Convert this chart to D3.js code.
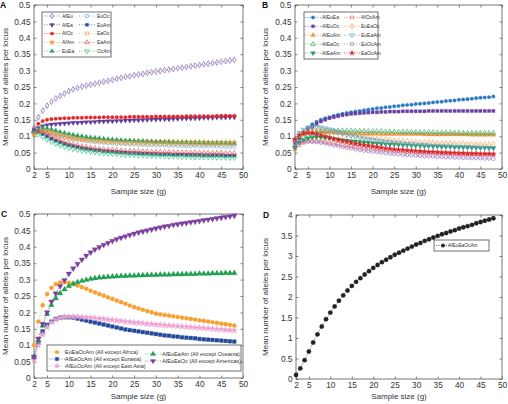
<!DOCTYPE html>
<html><head><meta charset="utf-8">
<script src="https://cdn.jsdelivr.net/npm/d3@7"></script>
<style>body{margin:0;background:#fff}svg{display:block;font-family:Arial,"Liberation Sans",Helvetica,sans-serif}</style>
</head><body><svg id="c" width="508" height="404"></svg>
<script>
// ---------------- DATA ----------------
const sampleSizes = [2,3,4,5,6,7,8,9,10,11,12,13,14,15,16,17,18,19,20,21,22,23,24,25,26,27,28,29,30,31,32,33,34,35,36,37,38,39,40,41,42,43,44,45,46,47,48];
const xTickValues = [2,5,10,15,20,25,30,35,40,45,50];
const yTicksSmall = [0,0.05,0.1,0.15,0.2,0.25,0.3,0.35,0.4,0.45,0.5];
const yTicksD = [0,0.5,1,1.5,2,2.5,3,3.5,4];
const xTitle = "Sample size (g)";
const yTitle = "Mean number of alleles per locus";
const panelLetters = ["A","B","C","D"];

// Panel A (pairs)
const namesA = ["AfEu","AfEa","AfOc","AfAm","EuEa","EuOc","EuAm","EaOc","EaAm","OcAm"];
const AfEu = [.125,.158,.178,.193,.205,.215,.223,.230,.238,.243, .247,.251,.254,.257,.260,.263,.266,.269,.272,.275, .278,.281,.283,.286,.288,.290,.293,.295,.297,.299, .301,.303,.305,.307,.309,.311,.313,.315,.317,.319, .321,.323,.325,.327,.329,.331,.333];
const AfEa = [.110,.125,.131,.134,.136,.137,.138,.139,.140,.141, .141,.142,.143,.143,.144,.145,.145,.146,.146,.147, .147,.148,.148,.149,.149,.150,.150,.151,.151,.152, .152,.152,.153,.153,.154,.154,.154,.155,.155,.156, .156,.156,.157,.157,.157,.158,.158];
const AfOc = [.120,.138,.146,.150,.152,.153,.154,.155,.155,.156, .156,.156,.157,.157,.157,.157,.158,.158,.158,.158, .158,.158,.159,.159,.159,.159,.159,.159,.160,.160, .160,.160,.160,.160,.160,.161,.161,.161,.161,.161, .161,.161,.162,.162,.162,.162,.162];
const AfAm = [.105,.113,.116,.115,.112,.108,.104,.101,.098,.096, .094,.092,.091,.090,.089,.088,.087,.087,.086,.086, .085,.085,.085,.084,.084,.084,.084,.083,.083,.083, .083,.083,.082,.082,.082,.082,.082,.082,.082,.081, .081,.081,.081,.081,.081,.081,.081];
const EuEa = [.115,.122,.125,.124,.121,.117,.113,.110,.107,.104, .102,.100,.098,.096,.095,.094,.092,.091,.090,.089, .088,.087,.087,.086,.085,.085,.084,.084,.083,.083, .082,.082,.082,.081,.081,.081,.080,.080,.080,.080, .079,.079,.079,.079,.079,.078,.078];
const EuOc = [.120,.118,.114,.110,.106,.102,.099,.096,.093,.091, .089,.087,.085,.084,.082,.081,.080,.079,.078,.077, .077,.076,.075,.075,.074,.074,.073,.073,.072,.072, .072,.071,.071,.071,.070,.070,.070,.070,.069,.069, .069,.069,.069,.068,.068,.068,.068];
const EuAm = [.118,.114,.107,.100,.093,.087,.082,.077,.073,.070, .067,.064,.062,.060,.058,.057,.055,.054,.053,.052, .051,.050,.049,.049,.048,.047,.047,.046,.046,.045, .045,.045,.044,.044,.044,.043,.043,.043,.043,.042, .042,.042,.042,.042,.041,.041,.041];
const EaOc = [.105,.112,.115,.114,.111,.107,.103,.099,.096,.093, .091,.089,.087,.086,.085,.084,.083,.082,.081,.081, .080,.080,.079,.079,.079,.078,.078,.078,.078,.077, .077,.077,.077,.077,.077,.076,.076,.076,.076,.076, .076,.076,.076,.076,.076,.076,.076];
const EaAm = [.115,.117,.113,.107,.100,.094,.088,.083,.079,.075, .072,.069,.067,.065,.063,.061,.060,.059,.058,.057, .056,.055,.055,.054,.054,.053,.053,.052,.052,.052, .051,.051,.051,.050,.050,.050,.050,.050,.049,.049, .049,.049,.049,.049,.048,.048,.048];
const OcAm = [.110,.105,.098,.090,.083,.077,.072,.068,.064,.061, .058,.056,.054,.052,.051,.049,.048,.047,.046,.045, .044,.043,.043,.042,.041,.041,.040,.040,.039,.039, .039,.038,.038,.038,.037,.037,.037,.036,.036,.036, .036,.035,.035,.035,.035,.034,.034];

// Panel B (triplets)
const namesB = ["AfEuEa","AfEuOc","AfEuAm","AfEaOc","AfEaAm","AfOcAm","EuEaOc","EuEaAm","EuOcAm","EaOcAm"];
const AfEuEa = [.066,.092,.112,.126,.136,.144,.150,.155,.158,.162, .165,.168,.171,.173,.175,.177,.179,.181,.183,.185, .186,.188,.189,.191,.192,.194,.195,.196,.198,.199, .200,.201,.203,.204,.205,.207,.208,.209,.211,.212, .213,.214,.216,.217,.218,.219,.221];
const AfEuOc = [.080,.098,.110,.120,.128,.138,.145,.150,.155,.158, .161,.164,.166,.168,.169,.170,.171,.172,.173,.173, .174,.174,.175,.175,.175,.176,.176,.176,.176,.176, .176,.177,.177,.177,.177,.177,.177,.177,.177,.177, .177,.177,.177,.177,.177,.177,.177];
const AfEuAm = [.088,.100,.108,.112,.114,.114,.113,.112,.111,.110, .110,.109,.109,.108,.108,.108,.107,.107,.107,.107, .106,.106,.106,.106,.106,.106,.106,.106,.106,.106, .105,.105,.105,.105,.105,.105,.105,.105,.105,.105, .105,.104,.104,.104,.104,.104,.104];
const AfEaOc = [.070,.085,.095,.102,.108,.112,.115,.116,.117,.117, .117,.117,.117,.117,.116,.116,.116,.115,.115,.115, .115,.114,.114,.114,.113,.113,.113,.113,.112,.112, .112,.112,.112,.111,.111,.111,.111,.111,.110,.110, .110,.110,.110,.110,.110,.110,.110];
const AfEaAm = [.065,.080,.088,.093,.096,.097,.097,.096,.094,.092, .090,.088,.087,.085,.084,.083,.081,.080,.079,.078, .077,.076,.075,.075,.074,.073,.073,.072,.071,.071, .070,.070,.069,.069,.068,.068,.068,.067,.067,.066, .066,.066,.065,.065,.065,.065,.064];
const AfOcAm = [.060,.073,.080,.084,.085,.085,.084,.082,.080,.078, .076,.074,.072,.070,.068,.066,.065,.063,.062,.061, .059,.058,.057,.056,.055,.054,.053,.053,.052,.051, .051,.050,.050,.049,.049,.048,.048,.047,.047,.047, .046,.046,.046,.045,.045,.045,.045];
const EuEaOc = [.090,.105,.115,.120,.122,.122,.121,.119,.116,.113, .110,.107,.104,.102,.100,.098,.096,.094,.093,.091, .090,.089,.088,.087,.086,.085,.084,.083,.082,.081, .081,.080,.080,.079,.079,.078,.078,.077,.077,.077, .076,.076,.076,.075,.075,.075,.075];
const EuEaAm = [.090,.110,.120,.126,.128,.129,.127,.124,.121,.117, .113,.109,.105,.102,.099,.096,.093,.091,.089,.087, .085,.083,.082,.080,.079,.078,.077,.076,.075,.074, .073,.072,.071,.071,.070,.069,.069,.068,.068,.067, .067,.066,.066,.065,.065,.064,.064];
const EuOcAm = [.075,.080,.083,.084,.083,.082,.080,.078,.075,.072, .070,.067,.065,.063,.060,.058,.056,.055,.053,.052, .050,.049,.047,.046,.045,.044,.043,.042,.041,.040, .039,.039,.038,.037,.037,.036,.036,.035,.035,.034, .034,.033,.033,.033,.032,.032,.031];
const EaOcAm = [.090,.103,.108,.110,.109,.106,.103,.099,.096,.092, .089,.086,.083,.080,.077,.075,.073,.071,.069,.067, .065,.063,.062,.060,.059,.058,.057,.056,.055,.054, .053,.052,.052,.051,.050,.050,.049,.049,.048,.048, .047,.047,.047,.046,.046,.046,.045];

// Panel C (four regions)
const namesC = ["EuEaOcAm (All except Africa)","AfEaOcAm (All except Eurasia)","AfEuOcAm (All except East Asia)","AfEuEaAm (All except Oceania)","AfEuEaOc (All except Americas)"];
const EuEaOcAm = [.100,.172,.222,.256,.275,.286,.291,.292,.290,.287, .282,.277,.272,.266,.261,.256,.251,.246,.241,.236, .231,.226,.221,.216,.212,.208,.204,.200,.196,.194, .192,.190,.188,.186,.184,.182,.180,.178,.176,.174, .172,.170,.168,.166,.164,.162,.160];
const AfEaOcAm = [.062,.108,.142,.162,.172,.180,.184,.185,.185,.184, .181,.178,.175,.172,.169,.166,.163,.160,.157,.154, .151,.148,.146,.144,.142,.140,.138,.136,.134,.132, .130,.129,.127,.126,.124,.123,.122,.121,.119,.118, .117,.116,.115,.114,.113,.112,.111];
const AfEuOcAm = [.055,.100,.132,.155,.170,.178,.183,.186,.187,.187, .187,.186,.185,.184,.183,.181,.180,.178,.177,.175, .174,.172,.171,.169,.168,.167,.165,.164,.163,.162, .161,.160,.159,.158,.157,.156,.155,.154,.153,.152, .151,.150,.149,.148,.147,.146,.145];
const AfEuEaAm = [.065,.115,.160,.195,.222,.243,.258,.270,.280,.287, .292,.296,.299,.302,.304,.306,.307,.308,.309,.310, .311,.311,.312,.312,.313,.313,.314,.314,.314,.315, .315,.315,.316,.316,.316,.317,.317,.317,.318,.318, .318,.319,.319,.319,.320,.320,.320];
const AfEuEaOc = [.065,.120,.165,.200,.233,.258,.280,.298,.318,.334, .348,.361,.373,.383,.392,.399,.406,.412,.418,.423, .428,.432,.436,.440,.444,.447,.450,.453,.456,.459, .462,.464,.467,.469,.471,.473,.475,.477,.479,.481, .483,.485,.487,.489,.491,.493,.495];

// Panel D (all five regions)
const namesD = ["AfEuEaOcAm"];
const AfEuEaOcAm = [.10,.26,.46,.67,.89,1.09,1.28,1.46,1.62,1.77, 1.91,2.04,2.16,2.27,2.37,2.46,2.55,2.63,2.71,2.78, 2.85,2.91,2.97,3.03,3.08,3.13,3.18,3.23,3.28,3.32, 3.37,3.41,3.45,3.49,3.53,3.56,3.60,3.63,3.67,3.70, 3.73,3.76,3.80,3.83,3.86,3.89,3.92];

// ---------------- STYLES ----------------
const sym = {circle:d3.symbolCircle, square:d3.symbolSquare, diamond:d3.symbolDiamond, tri:d3.symbolTriangle, tridown:d3.symbolTriangle, star:d3.symbolStar};
const stylesA = [
  {c:"#7d5fb0",s:"diamond",f:false},{c:"#5b3a95",s:"tridown",f:true},{c:"#e3262c",s:"circle",f:true},
  {c:"#f29a30",s:"star",f:true},{c:"#2ca25f",s:"tri",f:true},{c:"#63aed3",s:"circle",f:false},
  {c:"#1f4f96",s:"square",f:true},{c:"#f5a04a",s:"square",f:false},{c:"#e8504f",s:"tri",f:false},{c:"#2fbf7a",s:"tridown",f:false}];
const stylesB = [
  {c:"#2b7cc0",s:"circle",f:true},{c:"#6a3fa0",s:"square",f:true},{c:"#f0913a",s:"tri",f:true},
  {c:"#31ad62",s:"tri",f:false},{c:"#1f9a55",s:"tridown",f:true},{c:"#ee6b6b",s:"square",f:false},
  {c:"#f2a050",s:"diamond",f:false},{c:"#4aa3d0",s:"tridown",f:false},{c:"#9170c0",s:"circle",f:false},{c:"#d6262b",s:"star",f:true}];
const stylesC = [
  {c:"#f5a030",s:"circle",f:true},{c:"#24499a",s:"square",f:true},{c:"#eea2d4",s:"star",f:true},
  {c:"#1fa050",s:"tri",f:true},{c:"#7b3f9e",s:"tridown",f:true}];
const stylesD = [{c:"#222",s:"circle",f:true}];

const svg = d3.select("#c");
const axisColor = "#555", textColor = "#333";

function symbolPath(st, size){
  return d3.symbol().type(sym[st.s]).size(size)();
}

function drawPanel(o){
  const g = svg.append("g");
  const x = d3.scaleLinear().domain([2,50]).range([o.l,o.r]);
  const y = d3.scaleLinear().domain(o.yDomain).range([o.b,o.t]);
  g.append("rect").attr("x",o.l).attr("y",o.t).attr("width",o.r-o.l).attr("height",o.b-o.t)
    .attr("fill","none").attr("stroke",axisColor).attr("stroke-width",0.8);
  const fmt = v => String(+v.toFixed(2));
  const xb = g.append("g").attr("transform",`translate(0,${o.b})`)
    .call(d3.axisBottom(x).tickValues(xTickValues).tickSize(-2.5).tickPadding(3.5).tickFormat(fmt));
  const xt = g.append("g").attr("transform",`translate(0,${o.t})`)
    .call(d3.axisTop(x).tickValues(xTickValues).tickSize(-2.5).tickFormat(""));
  const yl = g.append("g").attr("transform",`translate(${o.l},0)`)
    .call(d3.axisLeft(y).tickValues(o.yTicks).tickSize(-2.5).tickPadding(3.5).tickFormat(fmt));
  const yr = g.append("g").attr("transform",`translate(${o.r},0)`)
    .call(d3.axisRight(y).tickValues(o.yTicks).tickSize(-2.5).tickFormat(""));
  [xb,xt,yl,yr].forEach(a=>{
    a.select(".domain").remove();
    a.selectAll(".tick line").attr("stroke",axisColor).attr("stroke-width",0.7);
    a.selectAll(".tick text").attr("fill",textColor).attr("font-size",8.3).attr("font-family","Arial, 'Liberation Sans', sans-serif");
  });
  g.append("text").attr("x",(o.l+o.r)/2).attr("y",o.xty).attr("text-anchor","middle")
    .attr("font-size",8).attr("fill",textColor).text(xTitle);
  g.append("text").attr("transform",`translate(${o.yt},${(o.t+o.b)/2}) rotate(-90)`).attr("text-anchor","middle")
    .attr("font-size",8).attr("fill",textColor).text(yTitle);
  g.append("text").attr("x",o.lx).attr("y",o.ly).attr("font-size",8.5).attr("font-weight","bold").attr("fill","#111").text(o.letter);
  o.series.forEach((s,i)=>{
    const st = o.styles[i];
    const pts = sampleSizes.map((v,k)=>[v,s[k]]);
    g.append("path").datum(pts).attr("fill","none").attr("stroke",st.c).attr("stroke-width",0.7)
      .attr("stroke-dasharray","1,1.5")
      .attr("d",d3.line().x(d=>x(d[0])).y(d=>y(d[1])));
    g.selectAll(null).data(pts).enter().append("path")
      .attr("transform",d=>`translate(${x(d[0])},${y(d[1])})${st.s==="tridown"?" rotate(180)":""}`)
      .attr("d",symbolPath(st,o.msize))
      .attr("fill",st.f?st.c:"none").attr("stroke",st.c).attr("stroke-width",st.f?0.3:0.65);
  });
  const lg = o.legend;
  g.append("rect").attr("x",lg.x).attr("y",lg.y).attr("width",lg.w).attr("height",lg.h)
    .attr("fill","#fff").attr("stroke","#333").attr("stroke-width",0.7);
  lg.items.forEach((it,i)=>{
    const st = o.styles[i];
    g.append("line").attr("x1",it.mx-lg.half).attr("x2",it.mx+lg.half).attr("y1",it.y).attr("y2",it.y)
      .attr("stroke",st.c).attr("stroke-width",0.7).attr("stroke-dasharray","1,1.5");
    g.append("path").attr("transform",`translate(${it.mx},${it.y})${st.s==="tridown"?" rotate(180)":""}`)
      .attr("d",symbolPath(st,lg.msize)).attr("fill",st.f?st.c:"none").attr("stroke",st.c).attr("stroke-width",st.f?0.3:0.65);
    g.append("text").attr("x",it.tx).attr("y",it.y).attr("dy","0.35em").attr("font-size",lg.fs)
      .attr("fill",textColor).text(o.names[i]);
  });
}

function twoCol(rows, c1m, c1t, c2m, c2t){
  const items=[];
  rows.forEach(r=>items.push({mx:c1m,tx:c1t,y:r}));
  rows.forEach(r=>items.push({mx:c2m,tx:c2t,y:r}));
  return items;
}

drawPanel({l:34,r:243,t:5,b:169,yDomain:[0,0.5],yTicks:yTicksSmall,yt:8,xty:194,lx:0,ly:8,letter:panelLetters[0],
  series:[AfEu,AfEa,AfOc,AfAm,EuEa,EuOc,EuAm,EaOc,EaAm,OcAm],styles:stylesA,names:namesA,msize:10,
  legend:{x:42,y:12,w:69,h:45,fs:5,msize:9,half:8,items:twoCol([16,24.8,33.6,42.4,51.2],52,62,87,97)}});

drawPanel({l:295,r:502,t:5,b:169,yDomain:[0,0.5],yTicks:yTicksSmall,yt:268,xty:194,lx:262,ly:8,letter:panelLetters[1],
  series:[AfEuEa,AfEuOc,AfEuAm,AfEaOc,AfEaAm,AfOcAm,EuEaOc,EuEaAm,EuOcAm,EaOcAm],styles:stylesB,names:namesB,msize:10,
  legend:{x:304,y:12,w:74,h:47,fs:5,msize:9,half:8,items:twoCol([17.5,26.3,35.2,44.1,53],313,322,352,361)}});

drawPanel({l:34,r:243,t:214,b:378,yDomain:[0,0.5],yTicks:yTicksSmall,yt:8,xty:399,lx:1,ly:217,letter:panelLetters[2],
  series:[EuEaOcAm,AfEaOcAm,AfEuOcAm,AfEuEaAm,AfEuEaOc],styles:stylesC,names:namesC,msize:14,
  legend:{x:47,y:345,w:194,h:26,fs:5.5,msize:11,half:8,
    items:[{mx:57,tx:65,y:352},{mx:57,tx:65,y:359},{mx:57,tx:65,y:366},{mx:153,tx:162,y:354},{mx:153,tx:162,y:361}]}});

drawPanel({l:296,r:502,t:215,b:379,yDomain:[0,4],yTicks:yTicksD,yt:268,xty:399,lx:263,ly:218,letter:panelLetters[3],
  series:[AfEuEaOcAm],styles:stylesD,names:namesD,msize:15,
  legend:{x:434,y:240,w:55,h:11,fs:4.8,msize:11,half:7,items:[{mx:443,tx:448,y:245.5}]}});
</script></body></html>
